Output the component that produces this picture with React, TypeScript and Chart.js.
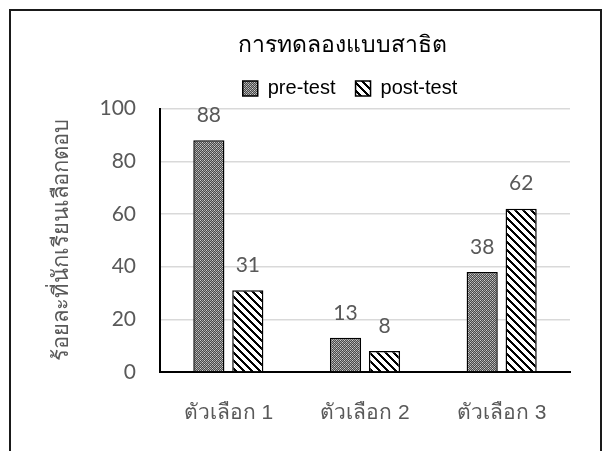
import React, { useEffect, useRef } from "react";
import { Chart, registerables } from "chart.js";

Chart.register(...registerables);

// Chart content
const chartTitle = "การทดลองแบบสาธิต";
const yAxisTitle = "ร้อยละที่นักเรียนเลือกตอบ";
const categories = ["ตัวเลือก 1", "ตัวเลือก 2", "ตัวเลือก 3"];
const seriesNames = ["pre-test", "post-test"];
const preTest = [88, 13, 38];
const postTest = [31, 8, 62];
const yMin = 0;
const yMax = 100;
const yStep = 20;

const GRAY_TEXT = "#595959";
const NUM_FONT = "Lato, 'Open Sans', sans-serif";
const THAI_FONT = "'Liberation Sans', 'Noto Sans', sans-serif";

// Fine dark dotted fill used for the pre-test bars
function makeDotPattern(ctx: CanvasRenderingContext2D): CanvasPattern | string {
  const c = document.createElement("canvas");
  c.width = 4;
  c.height = 4;
  const g = c.getContext("2d");
  if (!g) return "#808080";
  for (let y = 0; y < 4; y++) {
    for (let x = 0; x < 4; x++) {
      let col = (x + y) % 2 ? "#4a4a4a" : "#a2a2a2";
      if ((x === 0 && y === 0) || (x === 2 && y === 2)) col = "#cfcfcf";
      g.fillStyle = col;
      g.fillRect(x, y, 1, 1);
    }
  }
  return ctx.createPattern(c, "repeat") || "#808080";
}

// Black "\" diagonal hatch on white used for the post-test bars
function makeStripePattern(ctx: CanvasRenderingContext2D): CanvasPattern | string {
  const n = 8;
  const c = document.createElement("canvas");
  c.width = n;
  c.height = n;
  const g = c.getContext("2d");
  if (!g) return "#ffffff";
  g.fillStyle = "#ffffff";
  g.fillRect(0, 0, n, n);
  g.fillStyle = "#000000";
  for (let y = 0; y < n; y++) {
    for (let x = 0; x < n; x++) {
      if ((((x - y) % n) + n) % n < 3) g.fillRect(x, y, 1, 1);
    }
  }
  return ctx.createPattern(c, "repeat") || "#ffffff";
}

// Writes each bar's value above it
const valueLabels = {
  id: "valueLabels",
  afterDatasetsDraw(chart: any) {
    const ctx = chart.ctx;
    ctx.save();
    ctx.font = `21px ${NUM_FONT}`;
    ctx.fillStyle = GRAY_TEXT;
    ctx.textAlign = "center";
    ctx.textBaseline = "middle";
    chart.data.datasets.forEach((ds: any, i: number) => {
      chart.getDatasetMeta(i).data.forEach((bar: any, j: number) => {
        ctx.fillText(String(ds.data[j]), bar.x, bar.y - 25);
      });
    });
    ctx.restore();
  },
};

// Moves the title and legend rows right, over the plot rather than the full width
const headerShift = {
  id: "headerShift",
  afterLayout(chart: any) {
    const t = chart.titleBlock;
    if (t) {
      t.left += 57;
      t.right += 57;
    }
    const lg = chart.legend;
    if (lg) {
      lg.left += 65;
      lg.right += 65;
    }
  },
};

export default function App() {
  const canvasRef = useRef<HTMLCanvasElement | null>(null);

  useEffect(() => {
    const canvas = canvasRef.current;
    if (!canvas) return;
    const ctx = canvas.getContext("2d");
    if (!ctx) return;

    const chart = new Chart(ctx, {
      type: "bar",
      data: {
        labels: categories,
        datasets: [
          {
            label: seriesNames[0],
            data: preTest,
            backgroundColor: makeDotPattern(ctx) as any,
            borderColor: "#000000",
            borderWidth: 1.5,
          },
          {
            label: seriesNames[1],
            data: postTest,
            backgroundColor: makeStripePattern(ctx) as any,
            borderColor: "#000000",
            borderWidth: 1.5,
          },
        ],
      },
      options: {
        responsive: false,
        animation: false,
        devicePixelRatio: 1,
        categoryPercentage: 0.57,
        barPercentage: 0.8,
        layout: { padding: { top: 0, left: 0, right: 40, bottom: 0 } },
        plugins: {
          tooltip: { enabled: false },
          title: {
            display: true,
            text: chartTitle,
            color: "#000000",
            font: { family: THAI_FONT, size: 23, weight: "normal" },
            padding: { top: 32, bottom: -1 },
          },
          legend: {
            display: true,
            position: "top",
            labels: {
              boxWidth: 15,
              boxHeight: 15,
              padding: 20,
              color: "#000000",
              font: { family: "'Liberation Sans', Arial, sans-serif", size: 20 },
            },
          },
        },
        scales: {
          x: {
            afterFit: (scale: any) => {
              scale.height = 79;
            },
            grid: { display: false },
            border: { display: true, color: "#000000", width: 2 },
            ticks: {
              color: GRAY_TEXT,
              font: { family: THAI_FONT, size: 21 },
              padding: 21,
            },
          },
          y: {
            min: yMin,
            max: yMax,
            afterFit: (scale: any) => {
              scale.width = 160;
            },
            grid: { color: "#d9d9d9", lineWidth: 1.5, drawTicks: false },
            border: { display: true, color: "#000000", width: 2 },
            ticks: {
              stepSize: yStep,
              color: GRAY_TEXT,
              font: { family: NUM_FONT, size: 21 },
              padding: 24,
            },
            title: {
              display: true,
              text: yAxisTitle,
              color: GRAY_TEXT,
              font: { family: THAI_FONT, size: 22 },
              padding: { top: 49, bottom: 0 },
            },
          },
        },
      },
      plugins: [valueLabels, headerShift],
    });

    return () => chart.destroy();
  }, []);

  return (
    <div
      style={{
        position: "fixed",
        left: 0,
        top: 0,
        width: 610,
        height: 451,
        background: "#ffffff",
        overflow: "hidden",
      }}
    >
      <div
        style={{
          position: "absolute",
          left: 9,
          top: 9,
          width: 589,
          height: 470,
          border: "2px solid #1a1a1a",
        }}
      />
      <canvas
        ref={canvasRef}
        width={610}
        height={451}
        style={{ position: "absolute", left: 0, top: 0, width: 610, height: 451 }}
      />
    </div>
  );
}
